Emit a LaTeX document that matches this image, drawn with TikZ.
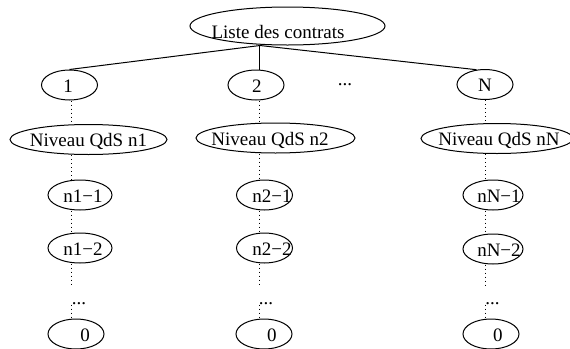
\documentclass[tikz,border=0pt]{standalone}
\usepackage{fontspec}
\setmainfont{Liberation Serif}
\usetikzlibrary{shapes.geometric}
% node text with no size of its own: [baseline drop]{x shift}{text}
\newcommand\tx[3][3.6pt]{\hspace*{#2}\makebox[0pt]{\raisebox{-#1}[0pt][0pt]{#3}}\hspace*{-#2}}

\begin{document}
\begin{tikzpicture}[
    x=0.5pt, y=-0.5pt, line width=0.5pt,
    every node/.style={font=\fontsize{9.5}{11}\selectfont},
    ell/.style={draw,ellipse,inner sep=0pt,minimum width=28pt,minimum height=15pt},
    dots/.style={inner sep=0pt,text height=9pt,text depth=0pt,anchor=base},
    dline/.style={dash pattern=on 0.5pt off 1.5pt}
]
\useasboundingbox (0,0) rectangle (570,349);

% columns
\coordinate (c1) at (72,0);
\coordinate (c2) at (260,0);
\coordinate (cN) at (486,0);

% root
\node[ell,minimum width=97.5pt,minimum height=19pt] (root) at (287.5,26)
    {\tx[6pt]{-4.75pt}{Liste des contrats}};

% contracts
\node[ell] (one) at (69.5,85) {\tx{-0.75pt}{1}};
\node[ell] (two) at (256,85) {\tx{0.5pt}{2}};
\node[ell] (nN) at (485,84.5) {\tx{0pt}{N}};
\node[inner sep=0pt,anchor=base] (more) at (345,85) {...};

\draw (root.south -| c2) -- (one.north);
\draw (root.south -| c2) -- (two.north -| c2);
\draw (root.south -| c2) -- (nN.120);

% QoS levels
\node[ell,minimum width=78.5pt] (niv1) at (88.5,139.5) {\tx{0pt}{Niveau QdS n1}};
\node[ell,minimum width=79.5pt] (niv2) at (275.5,138) {\tx{-2.75pt}{Niveau QdS n2}};
\node[ell,minimum width=76pt] (nivN) at (497,138.5) {\tx{1pt}{Niveau QdS nN}};

\node[ell,minimum width=32pt] (n11) at (80,195) {\tx{1.5pt}{n1−1}};
\node[ell] (n21) at (264.5,195) {\tx{3.75pt}{n2−1}};
\node[ell,minimum width=30pt] (nN1) at (493,195) {\tx{3pt}{nN−1}};

\node[ell,minimum width=32pt] (n12) at (80,248) {\tx{1.5pt}{n1−2}};
\node[ell] (n22) at (264.5,248) {\tx{3.75pt}{n2−2}};
\node[ell,minimum width=30pt] (nN2) at (493,249) {\tx{3pt}{nN−2}};

\node[dots] (d1) at (79,304) {...};
\node[dots] (d2) at (266,304) {...};
\node[dots] (dN) at (492.5,304) {...};

\node[ell] (zero1) at (76,334) {\tx{4.5pt}{0}};
\node[ell] (zero2) at (264,334) {\tx{4pt}{0}};
\node[ell] (zeroN) at (491,334) {\tx{3.5pt}{0}};

% dotted chains
\draw[dline] (c1 |- one.south) -- (c1 |- niv1.north);
\draw[dline] (c1 |- niv1.south) -- (c1 |- n11.north);
\draw[dline] (c1 |- n11.south) -- (c1 |- n12.north);
\draw[dline] (c1 |- n12.south) -- (c1 |- d1.north);
\draw[dline] (c1 |- d1.south) -- (c1 |- zero1.north);

\draw[dline] (c2 |- two.south) -- (c2 |- niv2.north);
\draw[dline] (c2 |- niv2.south) -- (c2 |- n21.north);
\draw[dline] (c2 |- n21.south) -- (c2 |- n22.north);
\draw[dline] (c2 |- n22.south) -- (c2 |- d2.north);
\draw[dline] (c2 |- d2.south) -- (c2 |- zero2.north);

\draw[dline] (cN |- nN.south) -- (cN |- nivN.north);
\draw[dline] (cN |- nivN.south) -- (cN |- nN1.north);
\draw[dline] (cN |- nN1.south) -- (cN |- nN2.north);
\draw[dline] (cN |- nN2.south) -- (cN |- dN.north);
\draw[dline] (cN |- dN.south) -- (cN |- zeroN.north);

\end{tikzpicture}
\end{document}
